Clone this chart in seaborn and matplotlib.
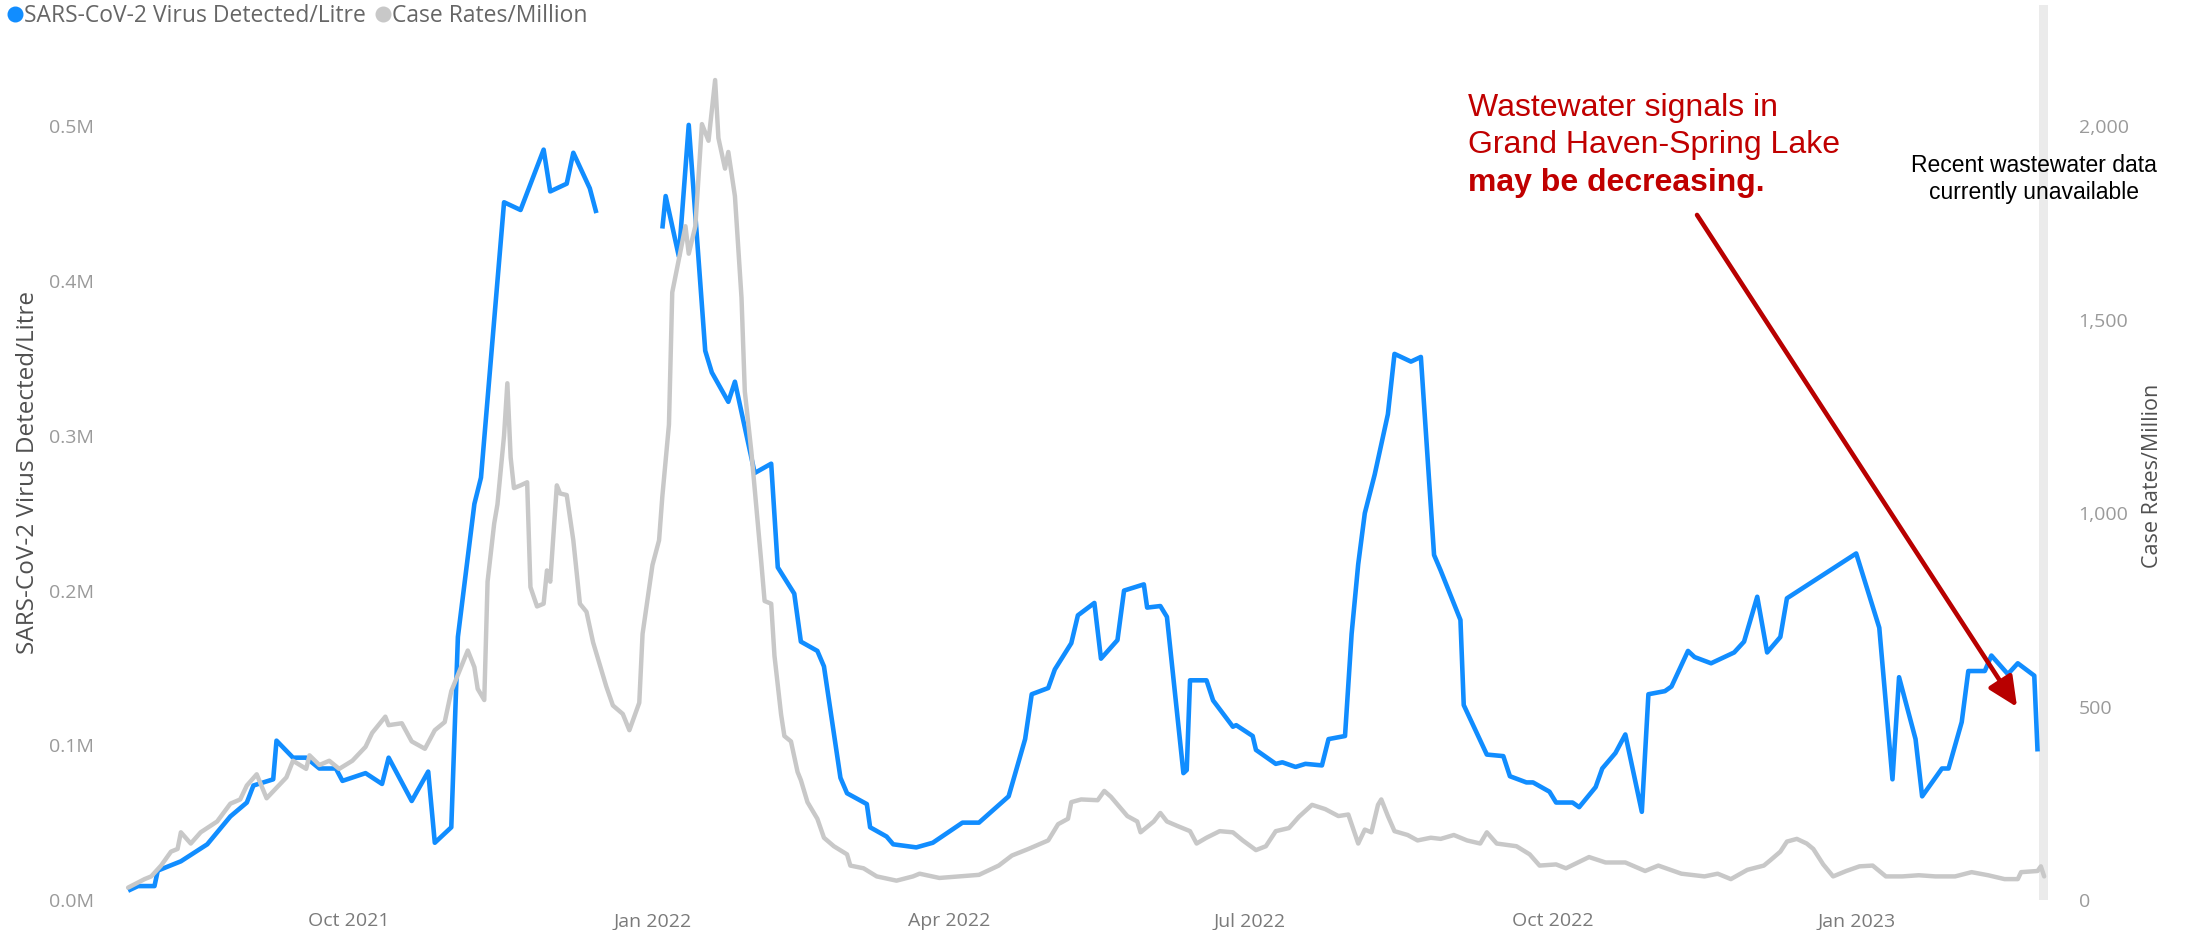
import pandas as pd
import matplotlib
matplotlib.use("Agg")
import matplotlib.pyplot as plt
import matplotlib.dates as mdates
from matplotlib.lines import Line2D
import seaborn as sns

# SARS-CoV-2 virus detected per litre (None = no samples)
virus_dates = [
    "2021-07-26", "2021-07-29", "2021-08-03", "2021-08-04", "2021-08-11", "2021-08-19",
    "2021-08-26", "2021-08-31", "2021-09-02", "2021-09-08", "2021-09-09", "2021-09-14",
    "2021-09-18", "2021-09-22", "2021-09-27", "2021-09-29", "2021-10-06", "2021-10-11",
    "2021-10-13", "2021-10-20", "2021-10-25", "2021-10-27", "2021-11-01", "2021-11-03",
    "2021-11-08", "2021-11-10", "2021-11-17", "2021-11-22", "2021-11-29", "2021-12-01",
    "2021-12-06", "2021-12-08", "2021-12-13", "2021-12-15", "2021-12-25", "2022-01-04",
    "2022-01-05", "2022-01-09", "2022-01-12", "2022-01-17", "2022-01-19", "2022-01-24",
    "2022-01-26", "2022-02-01", "2022-02-06", "2022-02-08", "2022-02-13", "2022-02-15",
    "2022-02-20", "2022-02-22", "2022-02-27", "2022-03-01", "2022-03-07", "2022-03-08",
    "2022-03-13", "2022-03-15", "2022-03-22", "2022-03-27", "2022-04-05", "2022-04-10",
    "2022-04-19", "2022-04-24", "2022-04-26", "2022-05-01", "2022-05-03", "2022-05-08",
    "2022-05-10", "2022-05-15", "2022-05-17", "2022-05-22", "2022-05-24", "2022-05-30",
    "2022-05-31", "2022-06-04", "2022-06-06", "2022-06-11", "2022-06-12", "2022-06-13",
    "2022-06-18", "2022-06-20", "2022-06-26", "2022-06-27", "2022-07-02", "2022-07-03",
    "2022-07-09", "2022-07-11", "2022-07-15", "2022-07-18", "2022-07-23", "2022-07-25",
    "2022-07-30", "2022-08-01", "2022-08-03", "2022-08-05", "2022-08-08", "2022-08-12",
    "2022-08-14", "2022-08-19", "2022-08-22", "2022-08-26", "2022-08-28", "2022-09-03",
    "2022-09-04", "2022-09-11", "2022-09-16", "2022-09-18", "2022-09-23", "2022-09-25",
    "2022-09-30", "2022-10-02", "2022-10-07", "2022-10-09", "2022-10-14", "2022-10-16",
    "2022-10-20", "2022-10-23", "2022-10-28", "2022-10-30", "2022-11-04", "2022-11-06",
    "2022-11-11", "2022-11-13", "2022-11-18", "2022-11-25", "2022-11-28", "2022-12-02",
    "2022-12-05", "2022-12-09", "2022-12-11", "2023-01-01", "2023-01-08", "2023-01-12",
    "2023-01-14", "2023-01-19", "2023-01-21", "2023-01-27", "2023-01-29", "2023-02-02",
    "2023-02-04", "2023-02-09", "2023-02-11", "2023-02-16", "2023-02-19", "2023-02-24",
    "2023-02-25",
]
virus_values = [
    6000, 9000, 9000, 19000, 25000, 36000,
    54000, 63000, 74000, 78000, 103000, 92000,
    92000, 85000, 85000, 77000, 82000, 75000,
    92000, 64000, 83000, 37000, 47000, 170000,
    256000, 273000, 451000, 446000, 485000, 458000,
    463000, 483000, 460000, 444000, None, 434000,
    455000, 416000, 501000, 355000, 341000, 322000,
    335000, 276000, 282000, 215000, 198000, 167000,
    161000, 151000, 79000, 69000, 62000, 47000,
    41000, 36000, 34000, 37000, 50000, 50000,
    67000, 104000, 133000, 137000, 149000, 166000,
    184000, 192000, 156000, 168000, 200000, 204000,
    189000, 190000, 183000, 82000, 84000, 142000,
    142000, 129000, 112000, 113000, 106000, 97000,
    88000, 89000, 86000, 88000, 87000, 104000,
    106000, 172000, 217000, 250000, 275000, 314000,
    353000, 348000, 351000, 223000, 213000, 181000,
    126000, 94000, 93000, 80000, 76000, 76000,
    70000, 63000, 63000, 60000, 73000, 85000,
    95000, 107000, 57000, 133000, 135000, 138000,
    161000, 157000, 153000, 160000, 167000, 196000,
    160000, 170000, 195000, 224000, 176000, 78000,
    144000, 104000, 67000, 85000, 85000, 115000,
    148000, 148000, 158000, 146000, 153000, 145000,
    96000,
]

# Case rates per million
case_dates = [
    "2021-07-26", "2021-07-31", "2021-08-02", "2021-08-05", "2021-08-08", "2021-08-10",
    "2021-08-11", "2021-08-14", "2021-08-17", "2021-08-22", "2021-08-26", "2021-08-29",
    "2021-08-31", "2021-09-03", "2021-09-06", "2021-09-12", "2021-09-14", "2021-09-18",
    "2021-09-19", "2021-09-22", "2021-09-25", "2021-09-28", "2021-10-02", "2021-10-06",
    "2021-10-08", "2021-10-12", "2021-10-13", "2021-10-17", "2021-10-20", "2021-10-24",
    "2021-10-27", "2021-10-30", "2021-11-01", "2021-11-05", "2021-11-06", "2021-11-08",
    "2021-11-09", "2021-11-11", "2021-11-12", "2021-11-14", "2021-11-15", "2021-11-17",
    "2021-11-18", "2021-11-19", "2021-11-20", "2021-11-22", "2021-11-24", "2021-11-25",
    "2021-11-27", "2021-11-29", "2021-11-30", "2021-12-01", "2021-12-03", "2021-12-04",
    "2021-12-06", "2021-12-08", "2021-12-10", "2021-12-12", "2021-12-14", "2021-12-16",
    "2021-12-18", "2021-12-20", "2021-12-23", "2021-12-25", "2021-12-28", "2021-12-29",
    "2022-01-01", "2022-01-03", "2022-01-04", "2022-01-06", "2022-01-07", "2022-01-09",
    "2022-01-11", "2022-01-12", "2022-01-14", "2022-01-16", "2022-01-18", "2022-01-20",
    "2022-01-21", "2022-01-23", "2022-01-24", "2022-01-26", "2022-01-28", "2022-01-29",
    "2022-01-31", "2022-02-03", "2022-02-04", "2022-02-06", "2022-02-07", "2022-02-09",
    "2022-02-10", "2022-02-12", "2022-02-14", "2022-02-15", "2022-02-17", "2022-02-20",
    "2022-02-22", "2022-02-25", "2022-03-01", "2022-03-02", "2022-03-06", "2022-03-10",
    "2022-03-16", "2022-03-21", "2022-03-23", "2022-03-29", "2022-04-04", "2022-04-10",
    "2022-04-16", "2022-04-20", "2022-04-25", "2022-05-01", "2022-05-04", "2022-05-07",
    "2022-05-08", "2022-05-11", "2022-05-16", "2022-05-18", "2022-05-20", "2022-05-25",
    "2022-05-28", "2022-05-29", "2022-06-02", "2022-06-04", "2022-06-06", "2022-06-09",
    "2022-06-13", "2022-06-15", "2022-06-18", "2022-06-22", "2022-06-26", "2022-06-29",
    "2022-07-03", "2022-07-06", "2022-07-09", "2022-07-13", "2022-07-16", "2022-07-20",
    "2022-07-24", "2022-07-28", "2022-07-31", "2022-08-03", "2022-08-05", "2022-08-07",
    "2022-08-09", "2022-08-10", "2022-08-12", "2022-08-14", "2022-08-18", "2022-08-21",
    "2022-08-25", "2022-08-28", "2022-09-01", "2022-09-05", "2022-09-09", "2022-09-11",
    "2022-09-14", "2022-09-20", "2022-09-24", "2022-09-27", "2022-10-02", "2022-10-05",
    "2022-10-12", "2022-10-17", "2022-10-23", "2022-10-29", "2022-11-02", "2022-11-09",
    "2022-11-16", "2022-11-20", "2022-11-24", "2022-11-29", "2022-12-04", "2022-12-06",
    "2022-12-09", "2022-12-11", "2022-12-14", "2022-12-17", "2022-12-19", "2022-12-22",
    "2022-12-25", "2022-12-29", "2023-01-02", "2023-01-06", "2023-01-10", "2023-01-15",
    "2023-01-20", "2023-01-25", "2023-01-31", "2023-02-05", "2023-02-10", "2023-02-15",
    "2023-02-19", "2023-02-20", "2023-02-25", "2023-02-26", "2023-02-27",
]
case_rates = [
    32, 54, 61, 89, 125, 132,
    175, 146, 175, 203, 249, 260,
    296, 325, 263, 317, 360, 339,
    374, 349, 360, 339, 360, 396,
    432, 474, 452, 457, 410, 391,
    439, 460, 540, 624, 645, 602,
    546, 517, 823, 973, 1023, 1201,
    1336, 1144, 1065, 1072, 1080, 809,
    759, 766, 852, 823, 1072, 1051,
    1047, 930, 766, 745, 666, 609,
    552, 503, 481, 439, 510, 688,
    866, 930, 1044, 1229, 1571, 1656,
    1742, 1671, 1742, 2006, 1963, 2120,
    1970, 1891, 1934, 1820, 1557, 1315,
    1158, 873, 773, 766, 631, 480,
    424, 410, 331, 310, 253, 210,
    161, 139, 118, 89, 82, 61,
    50, 61, 68, 57, 61, 65,
    89, 115, 132, 154, 196, 210,
    253, 260, 258, 282, 267, 217,
    203, 175, 203, 225, 203, 192,
    178, 146, 161, 178, 175, 154,
    129, 139, 178, 186, 215, 246,
    235, 217, 221, 146, 182, 175,
    246, 260, 217, 178, 168, 154,
    161, 158, 168, 154, 146, 175,
    146, 139, 118, 89, 92, 82,
    111, 97, 97, 75, 89, 68,
    61, 68, 54, 78, 89, 103,
    125, 151, 158, 146, 132, 92,
    61, 75, 87, 89, 61, 61,
    64, 61, 61, 72, 64, 54,
    54, 72, 75, 87, 61,
]

tick_months = [1, 4, 7, 10]
x_start, x_end = "2021-07-25", "2023-02-28 04:00"
no_data_from = "2023-02-25 12:00"

BLUE = "#118DFF"
GREY = "#C8C8C8"
RED = "#C00000"

virus_df = pd.DataFrame({"date": pd.to_datetime(virus_dates), "virus": virus_values})
virus_df["virus"] = virus_df["virus"].astype(float)
virus_df["segment"] = virus_df["virus"].isna().cumsum()
virus_df = virus_df.dropna()
case_df = pd.DataFrame({"date": pd.to_datetime(case_dates), "rate": case_rates})

sns.set_theme(style="white")
plt.rcParams["font.family"] = ["Open Sans", "DejaVu Sans"]

fig = plt.figure(figsize=(21.88, 9.30), dpi=100)
ax = fig.add_axes([0.05704, 0.03226, 0.87898, 0.96237])

# greyed out period with no recent wastewater data
ax.axvspan(pd.Timestamp(no_data_from), pd.Timestamp(x_end), color="#EBEBEB", lw=0, zorder=0)

sns.lineplot(data=virus_df, x="date", y="virus", units="segment", estimator=None,
             color=BLUE, lw=3.3, ax=ax, solid_capstyle="butt")

ax2 = ax.twinx()
sns.lineplot(data=case_df, x="date", y="rate", color=GREY, lw=3.2, ax=ax2)

left_max = 578500
ax.set_ylim(0, left_max)
ax2.set_ylim(0, left_max * 4000 / 1e6)
ax.set_xlim(pd.Timestamp(x_start), pd.Timestamp(x_end))

ax.set_yticks([0, 100000, 200000, 300000, 400000, 500000])
ax.set_yticklabels([f"{v / 1e6:.1f}M" for v in ax.get_yticks()])
ax2.set_yticks([0, 500, 1000, 1500, 2000])
ax2.set_yticklabels([f"{int(v):,}" for v in ax2.get_yticks()])

ax.xaxis.set_major_locator(mdates.MonthLocator(bymonth=tick_months))
ax.xaxis.set_major_formatter(mdates.DateFormatter("%b %Y"))

ax.tick_params(axis="y", length=0, labelsize=14, labelcolor="#9A9A9A", pad=22)
ax.tick_params(axis="x", length=0, labelsize=14, labelcolor="#7A7A7A", pad=9)
ax2.tick_params(axis="y", length=0, labelsize=14, labelcolor="#9A9A9A", pad=22)

for a in (ax, ax2):
    a.set_xlabel("")
    a.set_ylabel("")
    a.grid(False)
    for s in a.spines.values():
        s.set_visible(False)

fig.text(28 / 2188, 1 - 472 / 930, "SARS-CoV-2 Virus Detected/Litre", rotation=90,
         ha="center", va="center", fontsize=17.5, color="#505050")
fig.text(2152 / 2188, 1 - 476 / 930, "Case Rates/Million", rotation=90,
         ha="center", va="center", fontsize=15.5, color="#505050")

handles = [
    Line2D([], [], marker="o", ls="", color=BLUE, markersize=10.5),
    Line2D([], [], marker="o", ls="", color=GREY, markersize=10.5),
]
fig.legend(handles, ["SARS-CoV-2 Virus Detected/Litre", "Case Rates/Million"],
           loc="upper left", bbox_to_anchor=(0.003, 0.997), ncol=2, frameon=False,
           handlelength=0.6, handletextpad=0.1, columnspacing=0.45,
           borderaxespad=0, borderpad=0.05, fontsize=16.5, labelcolor="#666666")

# annotation
arial = ["Liberation Sans", "DejaVu Sans"]
fig.text(1468 / 2188, 1 - 116 / 930, "Wastewater signals in", color=RED,
         fontsize=23, va="baseline", family=arial)
fig.text(1468 / 2188, 1 - 153 / 930, "Grand Haven-Spring Lake", color=RED,
         fontsize=23, va="baseline", family=arial)
fig.text(1468 / 2188, 1 - 191 / 930, "may be decreasing.", color=RED,
         fontsize=23, fontweight="bold", va="baseline", family=arial)

fig.text(2034 / 2188, 1 - 172 / 930, "Recent wastewater data", color="black",
         fontsize=16.5, ha="center", va="baseline", family=arial)
fig.text(2034 / 2188, 1 - 199 / 930, "currently unavailable", color="black",
         fontsize=16.5, ha="center", va="baseline", family=arial)

ax2.annotate("", xy=(0.9839, 0.2156), xytext=(0.8175, 0.7654),
             xycoords="axes fraction", textcoords="axes fraction",
             arrowprops=dict(arrowstyle="-|>,head_length=0.9,head_width=0.42",
                             color="#B80000", lw=3.3, mutation_scale=20,
                             shrinkA=0, shrinkB=0))

fig.savefig("out.png", dpi=100)
